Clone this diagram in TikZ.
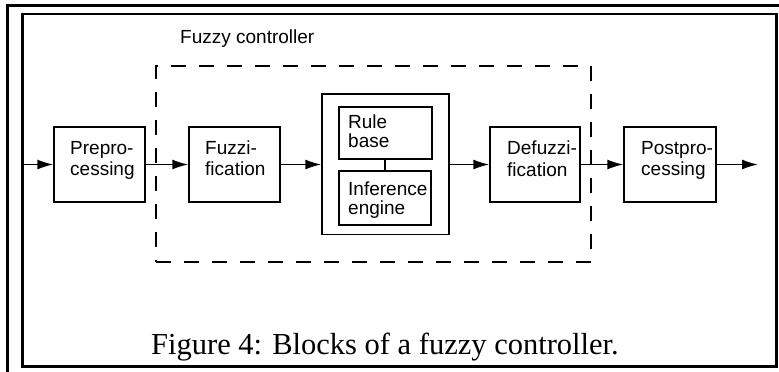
\documentclass[tikz,border=0pt]{standalone}
\usepackage{fontspec}
\setmainfont{Liberation Serif}
\setsansfont{Liberation Sans}
\usetikzlibrary{arrows.meta}
\begin{document}
\begin{tikzpicture}[x=1pt,y=-1pt,
  blk/.style={draw, line width=1.5pt, inner sep=0pt},
  lbl/.style={anchor=north west, inner sep=0pt, align=left, font=\sffamily\fontsize{19}{21.5}\selectfont},
  lblsm/.style={lbl, font=\sffamily\fontsize{19}{18.5}\selectfont},
  conn/.style={line width=1.5pt, -{Latex[length=16pt,width=10pt]}},
  ctrlbox/.style={draw, line width=1.8pt, dash pattern=on 15pt off 13pt, inner sep=0pt}]
\useasboundingbox (0,0) rectangle (779,372);
% frames
\draw[line width=3pt] (7.5,400) -- (7.5,5.5) -- (800,5.5);
\draw[line width=2.6pt] (22.5,14) rectangle (776.5,366.7);
% fuzzy controller dashed box
\node[ctrlbox, minimum width=435pt, minimum height=196pt] (ctrl) at (373.5,164) {};
\node[lbl] (ctrllbl) at (180,30) {Fuzzy controller};
% blocks
\node[blk, minimum width=91pt, minimum height=75pt] (pre) at (99.5,164.5) {};
\node[blk, minimum width=91pt, minimum height=75pt] (fuz) at (234.5,164.5) {};
\node[blk, minimum width=127pt, minimum height=140.5pt] (big) at (385.5,164.2) {};
\node[blk, minimum width=93pt, minimum height=52pt] (rule) at (385.5,133) {};
\node[blk, minimum width=92pt, minimum height=54pt] (inf) at (385,198) {};
\node[blk, minimum width=90pt, minimum height=75pt] (def) at (535,164.5) {};
\node[blk, minimum width=92pt, minimum height=75pt] (post) at (670,164.5) {};
% labels
\node[lbl] (pret) at (70,141) {Prepro-\\cessing};
\node[lbl] (fuzt) at (205,140.5) {Fuzzi-\\fication};
\node[lbl] (deft) at (507,141) {Defuzzi-\\fication};
\node[lbl] (postt) at (641,141) {Postpro-\\cessing};
\node[lblsm] (rulet) at (348,115) {Rule\\base};
\node[lblsm] (inft) at (348,182) {Inference\\engine};
% caption
\node[anchor=north west, inner sep=0pt, font=\fontsize{30.5}{32}\selectfont] (cap) at (151,332.5) {Figure 4: Blocks of a fuzzy controller.};
% connectors
\coordinate (in) at (22.5,164.5);
\coordinate (out) at (758,164.5);
\draw[conn] (in) -- (pre.west);
\draw[conn] (pre.east) -- (fuz.west);
\draw[conn] (fuz.east) -- (big.west |- fuz.east);
\draw[conn] (big.east |- def.west) -- (def.west);
\draw[conn] (def.east) -- (post.west);
\draw[conn] (post.east) -- (out);
\draw[line width=1.5pt] (rule.south -| inf.north) -- (inf.north);
\end{tikzpicture}
\end{document}
